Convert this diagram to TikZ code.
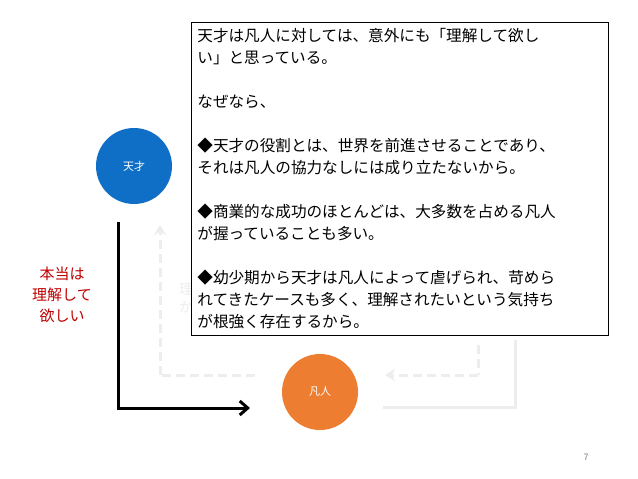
\documentclass[tikz,border=0pt]{standalone}
\usepackage{fontspec}
\setmainfont{Noto Sans CJK JP}
\usetikzlibrary{arrows.meta}
\definecolor{fblue}{HTML}{0F6FC6}
\definecolor{forange}{HTML}{ED7D31}
\definecolor{fred}{HTML}{C00000}
\definecolor{faint}{HTML}{EDEDED}
\tikzset{
  circ/.style={circle,minimum size=76pt,inner sep=0pt,text=white,font=\fontsize{11}{13}\selectfont},
  faintline/.style={draw=faint,line width=3pt},
  faintdash/.style={faintline,dash pattern=on 9pt off 5pt},
  boxtext/.style={draw=black,fill=white,line width=0.8pt,align=left,anchor=north west,
    text width=405pt,inner sep=6pt,font=\fontsize{15.6}{22}\selectfont}
}
\begin{document}
\begin{tikzpicture}[x=1pt,y=-1pt]
\useasboundingbox[fill=white] (0,0) rectangle (638,479);
\node[circ,fill=fblue] (ten) at (134,166) {天才};
\node[circ,fill=forange] (bon) at (320,392) {凡人};
% faint background arrows
\coordinate (a1) at (160,375);
\coordinate (a2) at (255,375);
\coordinate (a3) at (160,225);
\draw[faintdash] (a2) -- (a1);
\draw[faintdash,-{Stealth[length=10pt,width=12pt]}] (a1) -- (a3);
\coordinate (b1) at (478,345);
\coordinate (b2) at (478,375);
\coordinate (b3) at (385,375);
\draw[faintdash] (b1) -- (b2);
\draw[faintdash,-{Stealth[length=10pt,width=12pt]}] (b2) -- (b3);
\coordinate (c1) at (383,407);
\coordinate (c2) at (515,407);
\coordinate (c3) at (515,340);
\draw[faintline] (c1) -- (c2) -- (c3);
\node[text=faint,font=\fontsize{14}{18}\selectfont,align=left] (ft) at (186,298) {理\\か};
% main arrow
\coordinate (m1) at (118,222);
\coordinate (m2) at (118,408);
\coordinate (m3) at (250,408);
\draw[line width=3pt,-{Straight Barb[length=8pt,width=14pt]}] (m1) -- (m2) -- (m3);
\node[text=fred,align=center,font=\fontsize{15}{21}\selectfont] (lab) at (62,295) {本当は\\理解して\\欲しい};
\node[boxtext] (box) at (191,22) {天才は凡人に対しては、意外にも「理解して欲し\\い」と思っている。\\[22pt]なぜなら、\\[22pt]◆天才の役割とは、世界を前進させることであり、\\それは凡人の協力なしには成り立たないから。\\[22pt]◆商業的な成功のほとんどは、大多数を占める凡人\\が握っていることも多い。\\[22pt]◆幼少期から天才は凡人によって虐げられ、苛めら\\れてきたケースも多く、理解されたいという気持ち\\が根強く存在するから。};
\node[text=gray,font=\fontsize{9}{11}\selectfont] (pg) at (586,457) {7};
\end{tikzpicture}
\end{document}
